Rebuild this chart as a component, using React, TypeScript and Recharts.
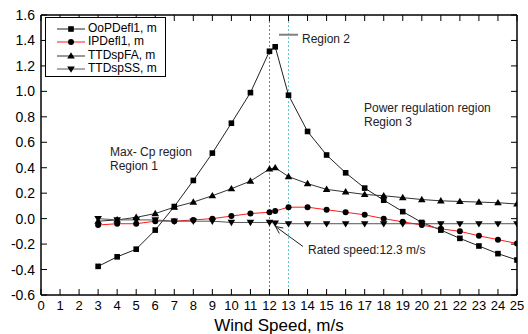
import { LineChart, Line, XAxis, YAxis, ReferenceLine, Legend } from 'recharts';

const windSpeed = [3, 4, 5, 6, 7, 8, 9, 10, 11, 12, 12.3, 13, 14, 15, 16, 17, 18, 19, 20, 21, 22, 23, 24, 25];
const oopDefl = [-0.375, -0.3, -0.24, -0.09, 0.095, 0.3, 0.515, 0.75, 0.99, 1.315, 1.35, 0.97, 0.685, 0.5, 0.36, 0.24, 0.145, 0.055, -0.03, -0.09, -0.155, -0.215, -0.275, -0.325];
const ipDefl = [-0.05, -0.04, -0.04, -0.02, -0.02, -0.01, 0.0, 0.02, 0.04, 0.05, 0.06, 0.09, 0.09, 0.07, 0.05, 0.03, 0.0, -0.025, -0.05, -0.08, -0.1, -0.135, -0.165, -0.195];
const ttdFA = [-0.02, -0.01, 0.01, 0.04, 0.09, 0.13, 0.18, 0.235, 0.295, 0.39, 0.4, 0.33, 0.275, 0.23, 0.21, 0.19, 0.18, 0.165, 0.15, 0.14, 0.135, 0.13, 0.125, 0.115];
const ttdSS = [0.0, -0.01, -0.01, -0.01, -0.02, -0.02, -0.02, -0.03, -0.03, -0.03, -0.035, -0.04, -0.04, -0.04, -0.04, -0.04, -0.04, -0.04, -0.04, -0.04, -0.04, -0.04, -0.04, -0.04];

const xTicks = Array.from({ length: 26 }, (_, i) => i);
const yTicks = [-0.6, -0.4, -0.2, 0, 0.2, 0.4, 0.6, 0.8, 1.0, 1.2, 1.4, 1.6];

const data = windSpeed.map((w, i) => ({
  w,
  oop: oopDefl[i],
  ip: ipDefl[i],
  fa: ttdFA[i],
  ss: ttdSS[i],
}));

const FONT = '"Liberation Sans", Arial, sans-serif';

const series = [
  { key: 'oop', name: 'OoPDefl1, m', stroke: '#222', shape: 'square' },
  { key: 'ip', name: 'IPDefl1, m', stroke: '#ff1a1a', shape: 'circle' },
  { key: 'fa', name: 'TTDspFA, m', stroke: '#333', shape: 'up' },
  { key: 'ss', name: 'TTDspSS, m', stroke: '#555', shape: 'down' },
];

function marker(shape: string, cx: number, cy: number, key?: string) {
  if (shape === 'square') return <rect key={key} x={cx - 2.8} y={cy - 2.8} width={5.6} height={5.6} fill="#000" />;
  if (shape === 'circle') return <circle key={key} cx={cx} cy={cy} r={3} fill="#000" />;
  if (shape === 'up')
    return <polygon key={key} points={`${cx},${cy - 3.8} ${cx + 3.8},${cy + 2.6} ${cx - 3.8},${cy + 2.6}`} fill="#000" />;
  return <polygon key={key} points={`${cx},${cy + 3.8} ${cx + 3.8},${cy - 2.6} ${cx - 3.8},${cy - 2.6}`} fill="#000" />;
}

const dotFor = (shape: string) => (props: any) => {
  const { cx, cy, index } = props;
  if (cx == null || cy == null) return <g key={index} />;
  return marker(shape, cx, cy, `${shape}-${index}`);
};

const BottomTick = ({ x, y, payload }: any) => (
  <g>
    <line x1={x} x2={x} y1={y} y2={y - 6} stroke="#000" />
    <text x={x} y={y + 15} textAnchor="middle" fontSize={13} fontFamily={FONT} fill="#000">
      {payload.value}
    </text>
  </g>
);

const TopTick = ({ x, y }: any) => <line x1={x} x2={x} y1={y} y2={y + 6} stroke="#000" />;

const LeftTick = ({ x, y, payload }: any) => (
  <g>
    <line x1={x} x2={x + 6} y1={y} y2={y} stroke="#000" />
    <text x={x - 6} y={y + 5} textAnchor="end" fontSize={14} fontFamily={FONT} fill="#000">
      {Number(payload.value).toFixed(1)}
    </text>
  </g>
);

const RightTick = ({ x, y }: any) => <line x1={x} x2={x - 6} y1={y} y2={y} stroke="#000" />;

const ROW = 13.4;

const LegendBox = () => (
  <div
    style={{
      position: 'relative',
      border: '1px solid #000',
      background: '#fff',
      width: 119,
      height: 4 + ROW * 4,
      fontFamily: FONT,
      fontSize: 12,
      color: '#000',
    }}
  >
    {series.map((s, i) => (
      <div key={s.key} style={{ position: 'absolute', left: 0, top: 4 + i * ROW, height: ROW, width: 119 }}>
        <svg width={30} height={12} style={{ position: 'absolute', left: 10, top: 1 }}>
          <line x1={1} x2={29} y1={6} y2={6} stroke={s.stroke} strokeWidth={1} />
          {marker(s.shape, 15, 6)}
        </svg>
        <span
          style={{
            position: 'absolute',
            left: 42,
            top: 0,
            height: ROW,
            lineHeight: `${ROW}px`,
            whiteSpace: 'nowrap',
            display: 'block',
          }}
        >
          {s.name}
        </span>
      </div>
    ))}
  </div>
);

const arrowTip = { x: 275.5, y: 226.5 };
const arrowTail = { x: 303, y: 246.5 };
function arrowHead() {
  const dx = arrowTail.x - arrowTip.x;
  const dy = arrowTail.y - arrowTip.y;
  const len = Math.hypot(dx, dy);
  const ux = dx / len;
  const uy = dy / len;
  const a = (25 * Math.PI) / 180;
  const l = 8;
  const r1 = { x: ux * Math.cos(a) - uy * Math.sin(a), y: ux * Math.sin(a) + uy * Math.cos(a) };
  const r2 = { x: ux * Math.cos(-a) - uy * Math.sin(-a), y: ux * Math.sin(-a) + uy * Math.cos(-a) };
  return `${arrowTip.x + r1.x * l},${arrowTip.y + r1.y * l} ${arrowTip.x},${arrowTip.y} ${arrowTip.x + r2.x * l},${arrowTip.y + r2.y * l}`;
}

const textStyle = { fontFamily: FONT, fontSize: 12, fill: '#222' };

export default function App() {
  return (
    <div style={{ position: 'absolute', left: 0, top: 0, background: '#fff' }}>
      <LineChart width={528} height={334} data={data} margin={{ top: 14, right: 10, bottom: 0, left: 40 }}>
        <XAxis
          dataKey="w"
          type="number"
          domain={[0, 25]}
          ticks={xTicks}
          interval={0}
          allowDataOverflow
          height={39}
          tickSize={0}
          tickMargin={0}
          tickLine={false}
          tick={<BottomTick />}
          axisLine={{ stroke: '#000', strokeWidth: 1.5 }}
          label={{ value: 'Wind Speed, m/s', position: 'insideBottom', offset: 3, fontSize: 17, fontFamily: FONT, fill: '#000' }}
        />
        <XAxis
          xAxisId="top"
          dataKey="w"
          orientation="top"
          type="number"
          domain={[0, 25]}
          ticks={xTicks}
          interval={0}
          allowDataOverflow
          height={1}
          tickSize={0}
          tickMargin={0}
          tickLine={false}
          tick={<TopTick />}
          axisLine={{ stroke: '#000', strokeWidth: 1.5 }}
        />
        <YAxis
          type="number"
          domain={[-0.6, 1.6]}
          ticks={yTicks}
          interval={0}
          allowDataOverflow
          width={1}
          tickSize={0}
          tickMargin={0}
          tickLine={false}
          tick={<LeftTick />}
          axisLine={{ stroke: '#000', strokeWidth: 1.5 }}
        />
        <YAxis
          yAxisId="right"
          orientation="right"
          type="number"
          domain={[-0.6, 1.6]}
          ticks={yTicks}
          interval={0}
          allowDataOverflow
          width={1}
          tickSize={0}
          tickMargin={0}
          tickLine={false}
          tick={<RightTick />}
          axisLine={{ stroke: '#000', strokeWidth: 1.5 }}
        />
        <ReferenceLine x={12} stroke="#339999" strokeDasharray="2 2" />
        <ReferenceLine x={13} stroke="#66c6c6" strokeDasharray="2 2" />
        <ReferenceLine
          segment={[
            { x: 12.5, y: 1.445 },
            { x: 13.5, y: 1.445 },
          ]}
          stroke="#808080"
          strokeWidth={2}
        />
        <Legend
          layout="vertical"
          align="center"
          verticalAlign="middle"
          content={<LegendBox />}
          wrapperStyle={{ left: 45, top: 17, width: 121, height: 6 + ROW * 4 }}
        />
        {series.map((s) => (
          <Line
            key={s.key}
            dataKey={s.key}
            name={s.name}
            type="linear"
            stroke={s.stroke}
            strokeWidth={1}
            dot={dotFor(s.shape)}
            activeDot={false}
            isAnimationActive={false}
          />
        ))}
        <g>
          <text x={302} y={42.5} style={textStyle}>Region 2</text>
          <text x={110} y={155.5} style={textStyle}>Max- Cp region</text>
          <text x={110} y={169.5} style={textStyle}>Region 1</text>
          <text x={364} y={112} style={textStyle}>Power regulation region</text>
          <text x={364} y={126} style={textStyle}>Region 3</text>
          <text x={308} y={254} style={textStyle}>Rated speed:12.3 m/s</text>
          <line x1={arrowTail.x} y1={arrowTail.y} x2={arrowTip.x} y2={arrowTip.y} stroke="#222" strokeWidth={1} />
          <polyline points={arrowHead()} fill="none" stroke="#222" strokeWidth={1} />
        </g>
      </LineChart>
    </div>
  );
}
